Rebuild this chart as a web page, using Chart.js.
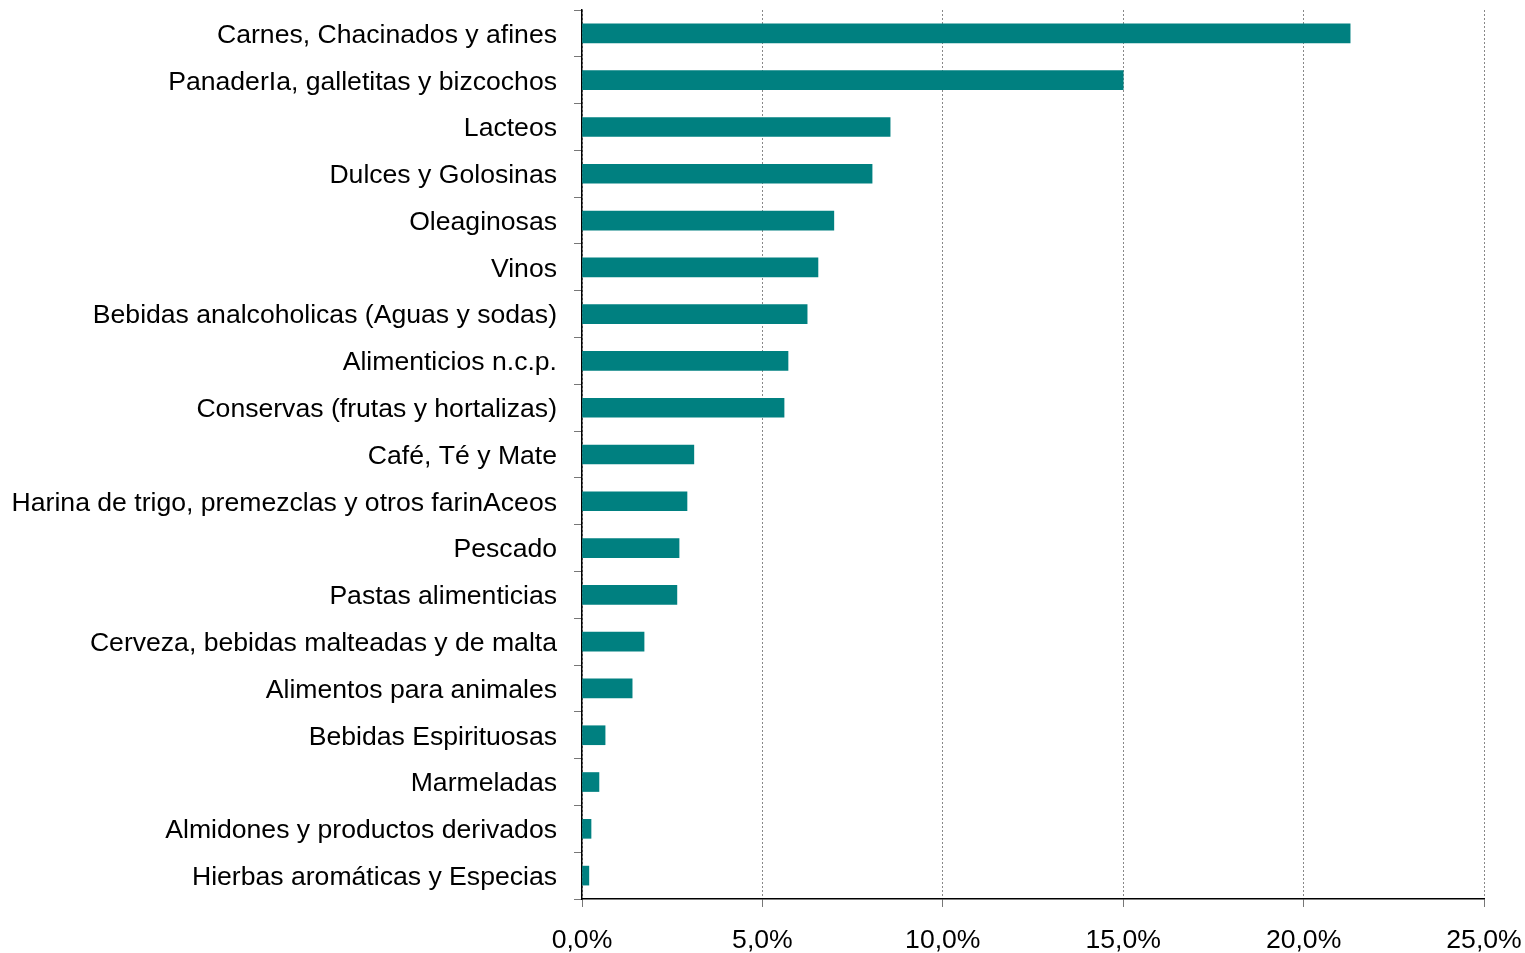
<!DOCTYPE html>
<html>
<head>
<meta charset="utf-8">
<script src="https://cdn.jsdelivr.net/npm/chart.js@4/dist/chart.umd.min.js"></script>
<style>
  html, body { margin: 0; padding: 0; background: #fff; }
  #wrap { width: 1525px; height: 953px; }
</style>
</head>
<body>
<div id="wrap"><canvas id="chart"></canvas></div>
<script>
var categories = [
  'Carnes, Chacinados y afines',
  'PanaderIa, galletitas y bizcochos',
  'Lacteos',
  'Dulces y Golosinas',
  'Oleaginosas',
  'Vinos',
  'Bebidas analcoholicas (Aguas y sodas)',
  'Alimenticios n.c.p.',
  'Conservas (frutas y hortalizas)',
  'Café, Té y Mate',
  'Harina de trigo, premezclas y otros farinAceos',
  'Pescado',
  'Pastas alimenticias',
  'Cerveza, bebidas malteadas y de malta',
  'Alimentos para animales',
  'Bebidas Espirituosas',
  'Marmeladas',
  'Almidones y productos derivados',
  'Hierbas aromáticas y Especias'
];
var shares = [21.29, 15.0, 8.54, 8.04, 6.98, 6.54, 6.24, 5.71, 5.6, 3.1, 2.91, 2.69, 2.63, 1.72, 1.39, 0.64, 0.47, 0.25, 0.19];
var xTicks = [0, 5, 10, 15, 20, 25];

var fontMain = { family: '"Liberation Sans", Arial, sans-serif', size: 26.6 };

function noPad(scale) {
  scale.paddingTop = 0;
  scale.paddingBottom = 0;
  scale.paddingLeft = 0;
  scale.paddingRight = 0;
}

const config = {
  type: 'bar',
  data: {
    labels: categories,
    datasets: [{
      data: shares,
      backgroundColor: '#008080',
      borderWidth: 0,
      barThickness: 19
    }]
  },
  options: {
    indexAxis: 'y',
    responsive: true,
    maintainAspectRatio: false,
    animation: false,
    layout: { padding: { top: 10, right: 41, left: 0, bottom: 0 } },
    plugins: { legend: { display: false }, tooltip: { enabled: false } },
    scales: {
      x: {
        min: 0,
        max: 25,
        afterBuildTicks: function (scale) {
          scale.ticks = xTicks.map(function (v) { return { value: v }; });
        },
        afterFit: function (scale) { scale.height = 54; noPad(scale); },
        ticks: {
          color: '#000',
          font: fontMain,
          padding: 18,
          maxRotation: 0,
          callback: function (v) { return v.toFixed(1).replace('.', ',') + '%'; }
        },
        grid: {
          color: '#888',
          lineWidth: 1,
          tickLength: 8,
          tickColor: '#777'
        },
        border: { display: true, color: '#000', width: 1.5, dash: [2, 2] }
      },
      y: {
        afterFit: function (scale) { scale.width = 582; noPad(scale); },
        ticks: {
          color: '#000',
          font: fontMain,
          padding: 17,
          labelOffset: 2,
          autoSkip: false
        },
        grid: {
          drawOnChartArea: false,
          drawTicks: true,
          tickLength: 8,
          tickColor: '#777',
          offset: true
        },
        border: { display: true, color: '#000', width: 1.5 }
      }
    }
  }
};

var chart = new Chart(document.getElementById('chart'), config);
</script>
</body>
</html>
